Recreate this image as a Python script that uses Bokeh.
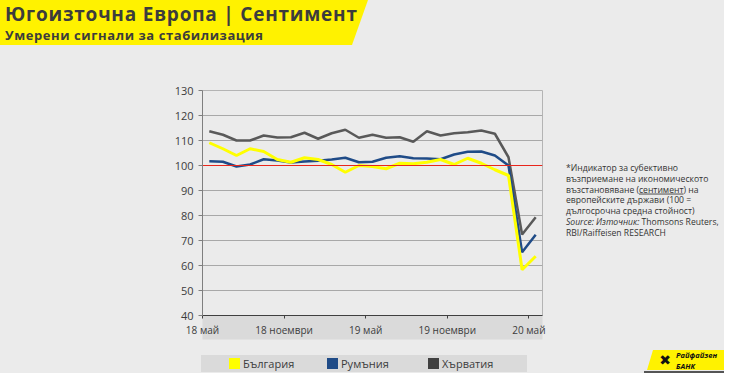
from bokeh.plotting import figure
from bokeh.models import FixedTicker, Span, Range1d, Div
from bokeh.layouts import column, row
from bokeh.embed import file_html
from bokeh.resources import INLINE

# ---------------- data ----------------
months = ["2018-05", "2018-06", "2018-07", "2018-08", "2018-09", "2018-10", "2018-11",
          "2018-12", "2019-01", "2019-02", "2019-03", "2019-04", "2019-05", "2019-06",
          "2019-07", "2019-08", "2019-09", "2019-10", "2019-11", "2019-12", "2020-01",
          "2020-02", "2020-03", "2020-04", "2020-05"]
bulgaria = [109.1, 106.7, 104.0, 106.7, 105.6, 102.4, 101.3, 103.1, 102.4, 100.4, 97.3,
            100.0, 99.6, 98.7, 100.9, 100.7, 101.3, 102.4, 100.4, 102.9, 100.9, 98.3,
            96.0, 58.3, 63.7]
romania = [101.7, 101.5, 99.6, 100.4, 102.5, 102.0, 101.2, 101.6, 101.9, 102.4, 103.1,
           101.3, 101.5, 103.1, 103.7, 102.9, 102.8, 102.5, 104.4, 105.5, 105.6, 104.0,
           100.0, 65.3, 72.3]
croatia = [113.7, 112.3, 110.0, 110.0, 112.0, 111.2, 111.3, 113.1, 110.7, 112.9, 114.3,
           111.1, 112.3, 111.1, 111.3, 109.5, 113.7, 112.0, 112.9, 113.3, 114.0, 112.7,
           103.3, 72.4, 79.3]
series_names = ["България", "Румъния", "Хърватия"]
x_tick_pos = [0, 6, 12, 18, 24]
x_tick_labels = ["18 май", "18 ноември", "19 май", "19 ноември", "20 май"]
y_ticks = [40, 50, 60, 70, 80, 90, 100, 110, 120, 130]
reference_level = 100

title_text = "Югоизточна Европа | Сентимент"
subtitle_text = "Умерени сигнали за стабилизация"
note_lines = ["*Индикатор за субективно",
              "възприемане на икономическото",
              "възстановяване (<tspan text-decoration=\"underline\">сентимент</tspan>) на",
              "европейските държави (100 =",
              "дългосрочна средна стойност)",
              "<tspan font-style=\"italic\" style=\"font-style:italic\">Source: Източник:</tspan> Thomsons Reuters,",
              "RBI/Raiffeisen RESEARCH"]

# ---------------- styling ----------------
BG = "#ebebeb"
YEL = "#ffff00"
BLUE = "#1f4b87"
GRAY = "#595959"
TXT = "#3c3c3c"
FONT = "Open Sans"
CSS_FONT = "font-family:'Open Sans',sans-serif;"

TOTAL_W = 724
HEAD_H = 50
FIG_W, FIG_H = 556, 295
BOT_H = 28

# ---------------- header ----------------
header_svg = f"""
<svg xmlns="http://www.w3.org/2000/svg" width="{TOTAL_W}" height="{HEAD_H}" style="display:block">
  <rect x="0" y="0" width="{TOTAL_W}" height="{HEAD_H}" fill="{BG}"/>
  <polygon points="0,0 368,0 352,45 0,45" fill="#fff200"/>
  <text x="5" y="20.5" style="{CSS_FONT}font-weight:700;font-size:19px" fill="{TXT}"
        textLength="352" lengthAdjust="spacing">{title_text}</text>
  <text x="5" y="39.5" style="{CSS_FONT}font-weight:700;font-size:13px" fill="{TXT}"
        textLength="258" lengthAdjust="spacing">{subtitle_text}</text>
</svg>"""
header = Div(text=header_svg, width=TOTAL_W, height=HEAD_H, margin=0,
             styles={"background-color": BG, "overflow": "hidden"})

# ---------------- chart ----------------
xs = [i + 0.5 for i in range(len(months))]

p = figure(width=FIG_W, height=FIG_H, output_backend="svg", toolbar_location=None,
           x_range=Range1d(0, 25), y_range=Range1d(40, 130),
           min_border_left=202, min_border_right=FIG_W - 542,
           min_border_top=90 - HEAD_H, min_border_bottom=HEAD_H + FIG_H - 315)
p.margin = 0
p.background_fill_color = BG
p.border_fill_color = BG
p.outline_line_color = "#b4b4b4"
p.outline_line_width = 1

p.xaxis.ticker = FixedTicker(ticks=x_tick_pos)
p.xaxis.major_label_overrides = {t: l for t, l in zip(x_tick_pos, x_tick_labels)}
p.xaxis.minor_tick_line_color = None
p.xaxis.major_tick_in = 0
p.xaxis.major_tick_out = 3
p.xaxis.axis_line_color = "#404040"
p.xaxis.major_tick_line_color = "#404040"
p.xaxis.major_label_text_font = FONT
p.xaxis.major_label_text_font_size = "10px"
p.xaxis.major_label_text_color = TXT
p.xaxis.major_label_standoff = 4
xa = p.xaxis[0]
if "background_fill_color" in xa.properties():
    xa.background_fill_color = "#dadada"

p.yaxis.ticker = FixedTicker(ticks=y_ticks)
p.yaxis.minor_tick_line_color = None
p.yaxis.major_tick_in = 0
p.yaxis.major_tick_out = 4
p.yaxis.axis_line_color = "#7f7f7f"
p.yaxis.major_tick_line_color = "#7f7f7f"
p.yaxis.major_label_text_font = FONT
p.yaxis.major_label_text_font_size = "11px"
p.yaxis.major_label_text_color = TXT
p.yaxis.major_label_standoff = 5

p.xgrid.grid_line_color = None
p.ygrid.grid_line_color = "#a8a8a8"
p.ygrid.grid_line_width = 1

p.add_layout(Span(location=reference_level, dimension="width", line_color="#e8261c",
                  line_width=1.2, level="glyph"))

p.line(xs, croatia, line_color=GRAY, line_width=2.5)
p.line(xs, romania, line_color=BLUE, line_width=2.5)
p.line(xs, bulgaria, line_color=YEL, line_width=3)

# ---------------- footnote ----------------
note_w = TOTAL_W - FIG_W
note_parts = []
y0 = 168 - HEAD_H + 3
for i, ln in enumerate(note_lines):
    note_parts.append(f'<text x="10" y="{y0 + i * 10.8:.1f}" style="{CSS_FONT}font-size:8.6px" '
                      f'fill="#333333">{ln}</text>')
note_svg = (f'<svg xmlns="http://www.w3.org/2000/svg" width="{note_w}" height="{FIG_H}" '
            f'style="display:block"><rect x="0" y="0" width="{note_w}" height="{FIG_H}" fill="{BG}"/>'
            + "".join(note_parts) + "</svg>")
note = Div(text=note_svg, width=note_w, height=FIG_H, margin=0,
           styles={"background-color": BG, "overflow": "hidden"})

# ---------------- legend + logo ----------------
by = 345
leg_cols = [YEL, BLUE, "#404040"]
leg_sq_x = [229, 327, 428]
leg = [f'<rect x="201" y="{355 - by}" width="326" height="17" fill="#dadada"/>']
for sx, col, name in zip(leg_sq_x, leg_cols, series_names):
    leg.append(f'<rect x="{sx}" y="{358 - by}" width="11" height="11" fill="{col}"/>')
    leg.append(f'<text x="{sx + 14}" y="{367.5 - by}" style="{CSS_FONT}font-size:11px" '
               f'fill="{TXT}">{name}</text>')
# logo (Raiffeisen Bank)
leg.append(f'<polygon points="653,{350 - by} 724,{350 - by} 724,{370 - by} 647,{370 - by}" fill="#fff200"/>')
leg.append(f'<rect x="644" y="{371 - by}" width="80" height="2" fill="#555555"/>')
leg.append(f'<text x="665" y="{365 - by}" style="font-family:\'DejaVu Sans\';font-size:14px" '
           f'fill="#111111" text-anchor="middle">✖</text>')
leg.append(f'<text x="676" y="{357.5 - by}" style="{CSS_FONT}font-weight:700;font-style:italic;font-size:7.5px" '
           f'fill="#111111">Райфайзен</text>')
leg.append(f'<text x="676" y="{368.5 - by}" style="{CSS_FONT}font-weight:700;font-style:italic;font-size:7.5px" '
           f'fill="#111111">БАНК</text>')
bottom_svg = (f'<svg xmlns="http://www.w3.org/2000/svg" width="{TOTAL_W}" height="{BOT_H}" '
              f'style="display:block"><rect x="0" y="0" width="{TOTAL_W}" height="{BOT_H}" fill="{BG}"/>'
              + "".join(leg) + "</svg>")
bottom = Div(text=bottom_svg, width=TOTAL_W, height=BOT_H, margin=0,
             styles={"background-color": BG, "overflow": "hidden"})

middle = row(p, note, spacing=0, styles={"background-color": BG})
layout = column(header, middle, bottom, spacing=0, styles={"background-color": BG})

open("out.html", "w").write(file_html(layout, INLINE))
